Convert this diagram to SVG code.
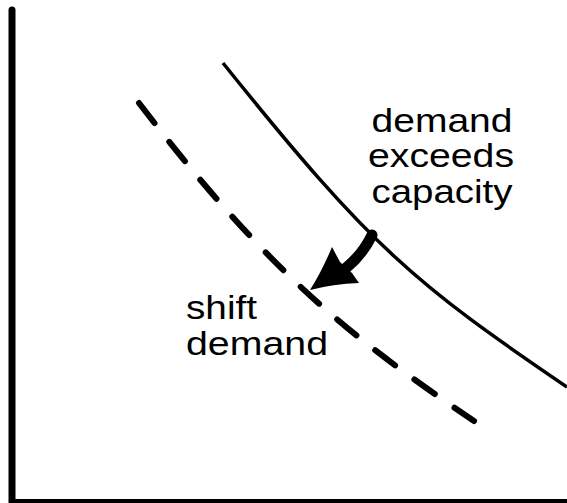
<svg xmlns="http://www.w3.org/2000/svg" width="567" height="503" viewBox="0 0 567 503">
<style>
.axis{fill:none;stroke:#000;stroke-width:7;stroke-linecap:round}
.curve{fill:none;stroke:#000;stroke-width:3.5}
.dashed{fill:none;stroke:#000;stroke-width:6;stroke-linecap:round;stroke-dasharray:25 24}
.lbl{font-family:"Liberation Sans",Arial,sans-serif;font-size:34px;fill:#000}
</style>
<rect width="567" height="503" fill="#fff"/>
<g id="axes">
<path class="axis" d="M12,10 L12,502.5 L580,502.5"/>
</g>
<g id="capacity-curve">
<path class="curve" d="M223,63 C373,250.5 417,285 567,387"/>
</g>
<g id="shifted-demand-curve">
<path class="dashed" d="M139,103 C267,270.3 346,334.3 474,421"/>
</g>
<g id="connectors">
<path d="M372,235 Q363,254 346,268" fill="none" stroke="#000" stroke-width="11" stroke-linecap="round"/>
<path d="M310,290 Q322,271 332,247 L340,262 L352,273 L359,283 Q333,284 310,290 Z" fill="#000"/>
</g>
<g id="label-exceeds">
<text class="lbl" x="442" y="132" text-anchor="middle" textLength="141" lengthAdjust="spacingAndGlyphs">demand</text>
<text class="lbl" x="441" y="167" text-anchor="middle" textLength="146" lengthAdjust="spacingAndGlyphs">exceeds</text>
<text class="lbl" x="442" y="203" text-anchor="middle" textLength="141" lengthAdjust="spacingAndGlyphs">capacity</text>
</g>
<g id="label-shift">
<text class="lbl" x="186" y="319" textLength="71" lengthAdjust="spacingAndGlyphs">shift</text>
<text class="lbl" x="186" y="355" textLength="142" lengthAdjust="spacingAndGlyphs">demand</text>
</g>
</svg>
